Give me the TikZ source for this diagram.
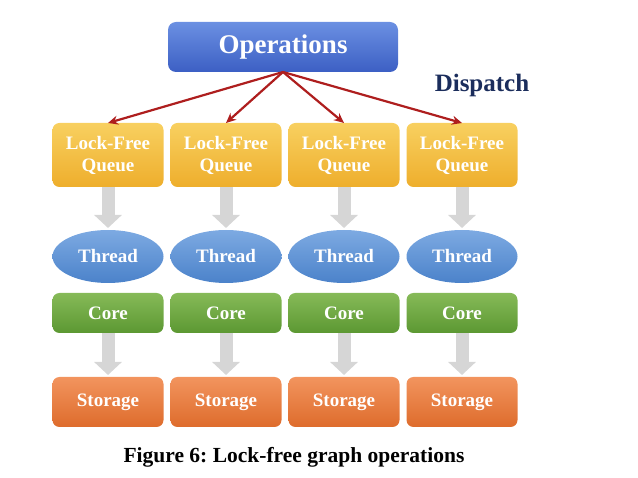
\documentclass[tikz,border=0pt]{standalone}
\usepackage{fontspec}
\setmainfont{Liberation Serif}
\usepackage{tikz}
\usetikzlibrary{arrows,arrows.meta,calc,positioning,shapes}
\frenchspacing
\newdimen\hdim
\newdimen\wdim
\newdimen\odim
\hdim=64pt
\wdim=111pt
\odim=7pt
\definecolor{opstop}{HTML}{6B90E2}
\definecolor{opsbot}{HTML}{3C5FC4}
\definecolor{queuetop}{HTML}{F8D060}
\definecolor{queuebot}{HTML}{EEAE2C}
\definecolor{threadtop}{HTML}{7DAAE2}
\definecolor{threadbot}{HTML}{4B82CA}
\definecolor{coretop}{HTML}{86BA58}
\definecolor{corebot}{HTML}{5C9832}
\definecolor{storetop}{HTML}{F2945E}
\definecolor{storebot}{HTML}{DE6C2C}
\definecolor{arrowred}{HTML}{AE1E1E}
\definecolor{flowgray}{HTML}{D6D6D6}
\definecolor{navy}{HTML}{1B2D5C}
\tikzstyle{element}=[
  font={\fontsize{19}{22}\selectfont\bfseries},
  text=white,
  inner sep=0pt,
  minimum width=\wdim,
  outer sep=0pt,
  rectangle,
  rounded corners=7pt,
  text centered,
]
\tikzstyle{ops}=[
  element,
  font={\fontsize{27}{30}\selectfont\bfseries},
  minimum width=230pt,
  minimum height=50pt,
  rounded corners=8pt,
  top color=opstop,
  bottom color=opsbot,
]
\tikzstyle{queue}=[
  element,
  align=center,
  minimum height=\hdim,
  top color=queuetop,
  bottom color=queuebot,
]
\tikzstyle{thread}=[
  element,
  ellipse,
  minimum height=53pt,
  top color=threadtop,
  bottom color=threadbot,
]
\tikzstyle{core}=[
  element,
  minimum height=40pt,
  top color=coretop,
  bottom color=corebot,
]
\tikzstyle{storage}=[
  element,
  minimum height=50pt,
  top color=storetop,
  bottom color=storebot,
]
\tikzstyle{arrow}=[
  color=arrowred,
  draw=arrowred,
  line width=2.2pt,
  -{Stealth[length=10pt,width=9pt]},
]
\tikzstyle{flow}=[
  color=flowgray,
  line width=13pt,
  -{Triangle[length=13pt,width=27pt]},
  shorten >=2pt,
]
\tikzstyle{arrowlabel}=[
  text=navy,
  font={\fontsize{25}{28}\selectfont\bfseries},
]
\tikzset{
  node distance=\wdim+\odim,
  >=stealth,
}
\begin{document}
\begin{tikzpicture}
  \useasboundingbox (0,0) rectangle (638pt,-478pt);
  \node (operations) [ops] at (283pt,-47pt) {Operations};
  \node (dispatch) [arrowlabel] at (482pt,-85pt) {Dispatch};
  %%
  \node (queue1) [queue] at (108pt,-155pt) {Lock-Free\\Queue};
  \node (queue2) [queue, right of=queue1] {Lock-Free\\Queue};
  \node (queue3) [queue, right of=queue2] {Lock-Free\\Queue};
  \node (queue4) [queue, right of=queue3] {Lock-Free\\Queue};
  %%
  \node (thread1) [thread, below=43pt of queue1] {Thread};
  \node (thread2) [thread] at (queue2|-thread1) {Thread};
  \node (thread3) [thread] at (queue3|-thread1) {Thread};
  \node (thread4) [thread] at (queue4|-thread1) {Thread};
  %%
  \node (core1) [core, below=10pt of thread1] {Core};
  \node (core2) [core] at (queue2|-core1) {Core};
  \node (core3) [core] at (queue3|-core1) {Core};
  \node (core4) [core] at (queue4|-core1) {Core};
  %%
  \node (storage1) [storage, below=44pt of core1] {Storage};
  \node (storage2) [storage] at (queue2|-storage1) {Storage};
  \node (storage3) [storage] at (queue3|-storage1) {Storage};
  \node (storage4) [storage] at (queue4|-storage1) {Storage};
  %%
  \node (caption) [font={\fontsize{21.5}{24}\selectfont\bfseries}]
    at (294pt,-457pt) {Figure 6: Lock-free graph operations};
  %%
  \draw [arrow] (operations.south) -- (queue1.north);
  \draw [arrow] (operations.south) -- (queue2.north);
  \draw [arrow] (operations.south) -- (queue3.north);
  \draw [arrow] (operations.south) -- (queue4.north);
  \draw [flow] (queue1) -- (thread1);
  \draw [flow] (queue2) -- (thread2);
  \draw [flow] (queue3) -- (thread3);
  \draw [flow] (queue4) -- (thread4);
  \draw [flow] (core1) -- (storage1);
  \draw [flow] (core2) -- (storage2);
  \draw [flow] (core3) -- (storage3);
  \draw [flow] (core4) -- (storage4);
\end{tikzpicture}
\end{document}
